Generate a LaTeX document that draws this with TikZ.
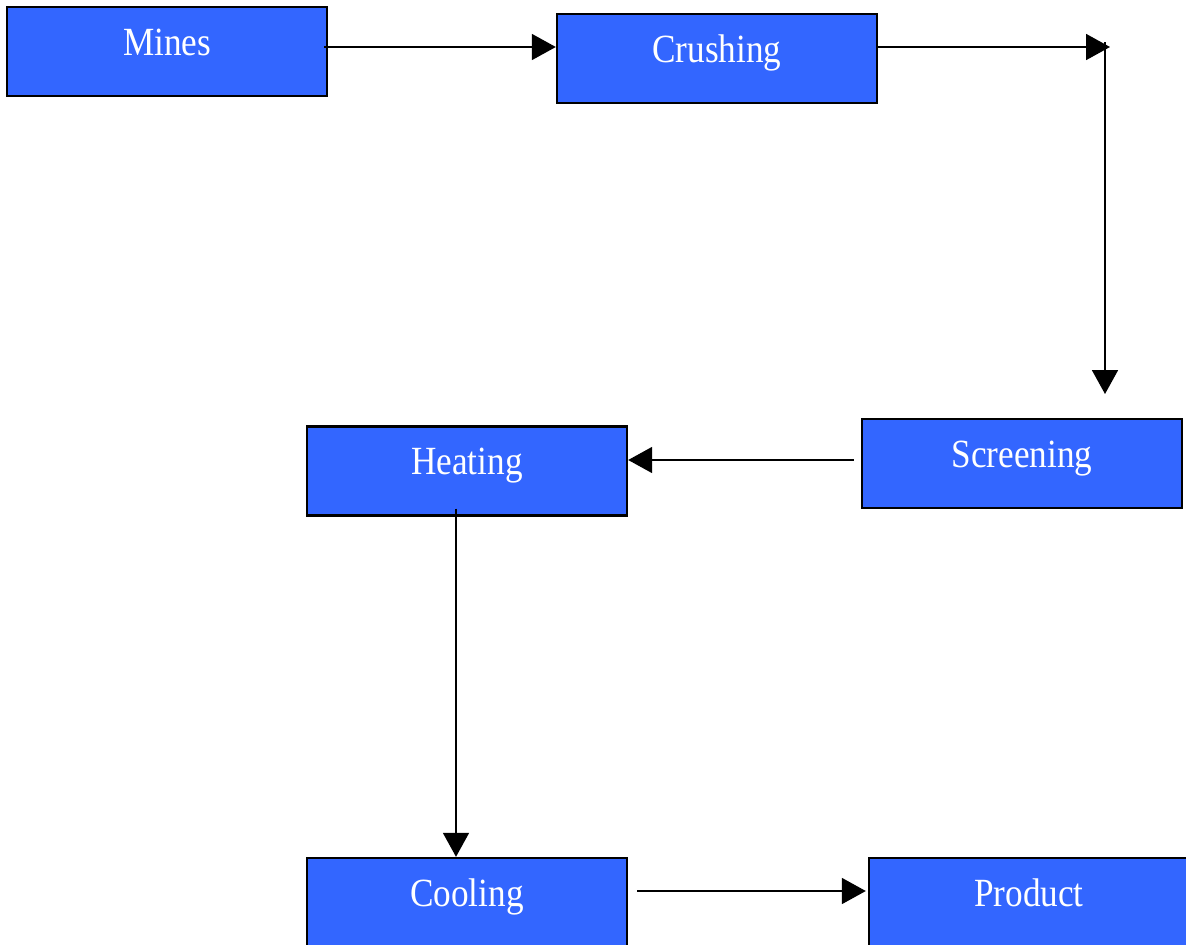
\documentclass[tikz,border=0pt]{standalone}
\usepackage{fontspec}
\newfontfamily\boxfont{Liberation Serif}[FakeStretch=0.88]
\usepackage{tikz}
\usetikzlibrary{arrows.meta}
\definecolor{stageblue}{HTML}{3366FF}
\tikzset{
  stage/.style={draw=black,line width=2.4pt,fill=stageblue,text=white,
    minimum width=320pt,inner xsep=0pt,inner ysep=0pt,
    text height=48pt,text depth=41pt,font=\boxfont\fontsize{40}{48}\selectfont},
  flow/.style={line width=1.8pt,-{Triangle[length=24pt,width=26pt]}}
}
\begin{document}
\begin{tikzpicture}[x=1pt,y=-1pt]
  \useasboundingbox (0,0) rectangle (1186,945);
  \node[stage] (mines) at (167,51.5) {Mines};
  \node[stage] (crushing) at (717,58.5) {Crushing};
  \node[stage] (screening) at (1022,463.5) {Screening};
  \node[stage] (heating) at (467,471) {Heating};
  \node[stage] (cooling) at (467,902.5) {Cooling};
  \node[stage] (product) at (1029,902.5) {Product};
  \coordinate (bendin) at (1110,47);
  \coordinate (bendout) at (1105,42);
  \coordinate (drop) at (1105,394);
  \path[flow]
    ([xshift=-4pt,yshift=4.5pt]mines.east) edge ([yshift=11.5pt]crushing.west)
    ([yshift=11.5pt]crushing.east) edge (bendin)
    (bendout) edge (drop)
    ([xshift=-7pt,yshift=3.5pt]screening.west) edge ([yshift=11pt]heating.east)
    ([xshift=-11pt,yshift=8pt]heating.south) edge ([xshift=-11pt]cooling.north)
    ([xshift=9pt,yshift=11.5pt]cooling.east) edge ([xshift=-2pt,yshift=11.5pt]product.west);
\end{tikzpicture}
\end{document}
